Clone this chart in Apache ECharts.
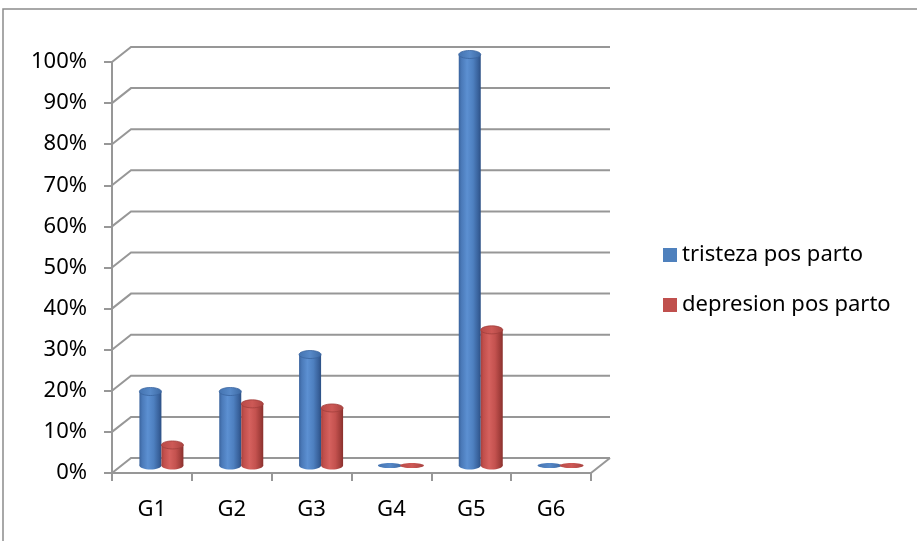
<!DOCTYPE html>
<html>
<head>
<meta charset="utf-8">
<title>tristeza / depresion pos parto</title>
<script src="https://cdn.jsdelivr.net/npm/echarts@6/dist/echarts.min.js"></script>
<style>
  html, body { margin: 0; padding: 0; background: #fff; }
  #chart { width: 917px; height: 541px; }
</style>
</head>
<body>
<div id="chart"></div>
<script>
// Groups and the share of each outcome per group
const categories = ['G1', 'G2', 'G3', 'G4', 'G5', 'G6'];
const tristeza = [0.18, 0.18, 0.27, 0, 1.00, 0];
const depresion = [0.05, 0.15, 0.14, 0, 0.33, 0];
const yTicks = [0, 0.1, 0.2, 0.3, 0.4, 0.5, 0.6, 0.7, 0.8, 0.9, 1.0];

// depth of the pseudo-3D box (back wall offset relative to the front axes)
const DX = 19, DY = -15;
const BAR_W = 22;
const GRID_COLOR = '#979797';
const FONT = 'Noto Sans';

function grad(stops) {
  return new echarts.graphic.LinearGradient(0, 0, 1, 0, stops.map((c, i) => ({ offset: c[0], color: c[1] })));
}

const palette = {
  blue: {
    flat: '#4f81bd',
    body: [[0, '#3a639d'], [0.12, '#4a79b8'], [0.38, '#5c90d2'], [0.65, '#4e80c0'], [0.88, '#39629c'], [1, '#2c5085']],
    top: [[0, '#4473b0'], [0.5, '#5789c8'], [1, '#3d69a3']],
    rim: '#3a659f'
  },
  red: {
    flat: '#c0504d',
    body: [[0, '#a6403d'], [0.12, '#c14f4c'], [0.38, '#d5615e'], [0.65, '#c4524f'], [0.88, '#a03d3a'], [1, '#8a302d']],
    top: [[0, '#b84a47'], [0.5, '#cd5956'], [1, '#a94340']],
    rim: '#a13f3c'
  }
};

// back wall gridlines, left wall diagonals and the floor edge
function renderWall(params, api) {
  const v = api.value(1);
  const cs = params.coordSys;
  const y = api.coord([0, v])[1];
  const x0 = cs.x, x1 = cs.x + cs.width;
  const children = [{
    type: 'polyline',
    shape: { points: [[x0, y], [x0 + DX, y + DY], [x1 + DX, y + DY]] },
    style: { stroke: GRID_COLOR, lineWidth: 2, fill: null }
  }];
  if (v === 0) {
    children.push({
      type: 'line',
      shape: { x1: x1, y1: y, x2: x1 + DX, y2: y + DY },
      style: { stroke: GRID_COLOR, lineWidth: 2 }
    });
  }
  return { type: 'group', children: children };
}

function cylinderRenderer(side, pal) {
  return function (params, api) {
    const idx = api.value(0);
    const val = api.value(1);
    const center = api.coord([idx, val]);
    const base = api.coord([idx, 0]);
    const cx = center[0] + DX / 2 + side * BAR_W / 2;
    const baseY = base[1] + DY / 2;
    const topY = center[1] + DY / 2;
    const rx = BAR_W / 2;
    if (val === 0) {
      return {
        type: 'ellipse',
        shape: { cx: cx, cy: baseY, rx: rx + 1, ry: 2.6 },
        style: { fill: grad(pal.top) }
      };
    }
    return {
      type: 'group',
      children: [
        {
          type: 'ellipse',
          shape: { cx: cx, cy: baseY, rx: rx, ry: 4 },
          style: { fill: grad(pal.body) }
        },
        {
          type: 'rect',
          shape: { x: cx - rx, y: topY, width: BAR_W, height: baseY - topY },
          style: { fill: grad(pal.body) }
        },
        {
          type: 'ellipse',
          shape: { cx: cx, cy: topY, rx: rx, ry: 4 },
          style: { fill: grad(pal.top), stroke: pal.rim, lineWidth: 0.8 }
        }
      ]
    };
  };
}

const chart = echarts.init(document.getElementById('chart'), null, { renderer: 'canvas' });

chart.setOption({
  animation: false,
  backgroundColor: '#ffffff',
  graphic: [{
    type: 'rect',
    shape: { x: 3, y: 9, width: 960, height: 600 },
    style: { fill: null, stroke: '#8c8c8c', lineWidth: 1.5 },
    silent: true,
    z: -10
  }],
  grid: { left: 112, right: 326, top: 62, bottom: 68 },
  legend: {
    orient: 'vertical',
    left: 658,
    top: 239,
    itemWidth: 14,
    itemHeight: 14,
    itemGap: 28,
    icon: 'rect',
    textStyle: { fontFamily: FONT, fontSize: 22, color: '#000' },
    data: ['tristeza pos parto', 'depresion pos parto']
  },
  xAxis: {
    type: 'category',
    data: categories,
    axisLine: { lineStyle: { color: GRID_COLOR, width: 2 } },
    axisTick: { show: true, length: 8, lineStyle: { color: GRID_COLOR, width: 2 } },
    axisLabel: { fontFamily: FONT, fontSize: 22, color: '#000', margin: 26 },
    splitLine: { show: false }
  },
  yAxis: {
    type: 'value',
    min: 0,
    max: 1,
    interval: 0.1,
    axisLine: { show: true, lineStyle: { color: GRID_COLOR, width: 2 } },
    axisTick: { show: true, length: 8, lineStyle: { color: GRID_COLOR, width: 2 } },
    axisLabel: {
      fontFamily: FONT, fontSize: 22, color: '#000', margin: 25,
      formatter: v => Math.round(v * 100) + '%'
    },
    splitLine: { show: false }
  },
  series: [
    {
      name: 'wall',
      type: 'custom',
      renderItem: renderWall,
      data: yTicks.map(v => [0, v]),
      silent: true,
      z: 1
    },
    {
      name: 'tristeza pos parto',
      type: 'custom',
      itemStyle: { color: palette.blue.flat },
      renderItem: cylinderRenderer(-1, palette.blue),
      data: tristeza.map((v, i) => [i, v]),
      z: 3
    },
    {
      name: 'depresion pos parto',
      type: 'custom',
      itemStyle: { color: palette.red.flat },
      renderItem: cylinderRenderer(1, palette.red),
      data: depresion.map((v, i) => [i, v]),
      z: 3
    }
  ]
});
</script>
</body>
</html>
